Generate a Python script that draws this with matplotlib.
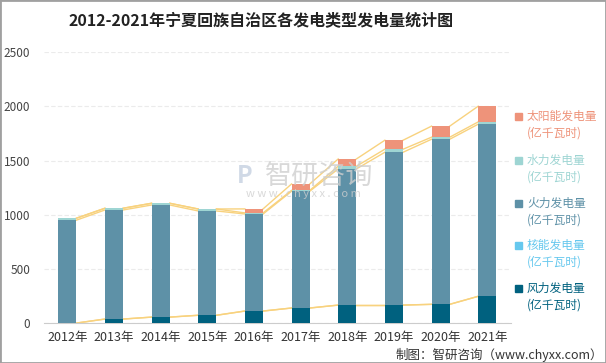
import matplotlib
matplotlib.use("Agg")
import matplotlib.pyplot as plt
from matplotlib.patches import Rectangle
import numpy as np

plt.rcParams['font.family'] = ['Noto Sans CJK SC', 'DejaVu Sans']

# data (亿千瓦时)
years = ['2012年', '2013年', '2014年', '2015年', '2016年', '2017年', '2018年', '2019年', '2020年', '2021年']
wind = [0, 37, 55, 72, 111, 139, 166, 166, 173, 247]
nuclear = [0, 0, 0, 0, 0, 0, 0, 0, 0, 0]
thermal = [950, 1007, 1035, 963, 896, 1078, 1257, 1411, 1524, 1589]
hydro = [18, 16, 16, 18, 10, 8, 25, 28, 19, 21]
solar = [0, 0, 0, 0, 37, 59, 67, 83, 102, 145]

series = [
    ('风力发电量', wind, '#00617F'),
    ('核能发电量', nuclear, '#66C8EE'),
    ('火力发电量', thermal, '#5E91A7'),
    ('水力发电量', hydro, '#9ED5D3'),
    ('太阳能发电量', solar, '#EE937A'),
]

fig = plt.figure(figsize=(6.06, 3.63), dpi=100)
ax = fig.add_axes([0.0726, 0.110, 0.770, 0.746])

x = np.arange(len(years))
w = 0.39
bottom = np.zeros(len(years))
levels = []
for name, vals, color in series:
    vals = np.array(vals, dtype=float)
    ax.bar(x, vals, w, bottom=bottom, color=color, zorder=3)
    bottom = bottom + vals
    levels.append(bottom.copy())

# connecting lines between neighbouring bars
for lv in levels:
    for i in range(len(years) - 1):
        ax.plot([x[i] + w / 2, x[i + 1] - w / 2], [lv[i], lv[i + 1]],
                color='#F8D27E', lw=1, zorder=2)

ax.set_xlim(-0.5, len(years) - 0.5)
ax.set_ylim(0, 2500)
ax.set_yticks(range(0, 2501, 500))
ax.set_xticks(x)
ax.set_xticklabels(years, fontsize=9, color='#333333')
ax.tick_params(axis='y', labelsize=8.5, labelcolor='#444444', length=0, pad=10)
ax.tick_params(axis='x', length=0, pad=6)
ax.grid(axis='y', color='#EBEBEB', lw=0.8, ls=(0, (4, 2)), zorder=0)
for s in ['top', 'right', 'left']:
    ax.spines[s].set_visible(False)
ax.spines['bottom'].set_color('#CCCCCC')

# title
fig.text(261 / 606, 0.945, '2012-2021年宁夏回族自治区各发电类型发电量统计图',
         ha='center', va='center', fontsize=11.5, fontweight='bold', color='#222222')

# legend (manual, top to bottom)
ys = [116, 160, 203, 245, 288]
for (name, vals, color), yy in zip(series[::-1], ys):
    fig.add_artist(Rectangle((515 / 606, 1 - (yy + 4) / 363), 7 / 606, 7 / 363,
                             transform=fig.transFigure, color=color))
    fig.text(527 / 606, 1 - yy / 363, name, ha='left', va='center',
             fontsize=8.5, color=color)
    fig.text(527 / 606, 1 - (yy + 17) / 363, '(亿千瓦时)', ha='left', va='center',
             fontsize=8.5, color=color)

# watermark
fig.text(319 / 606, 1 - 176 / 363, '智研咨询', ha='center', va='center',
         fontsize=19.5, color='#CFCFCF', alpha=0.8)
fig.text(303 / 606, 1 - 194 / 363, 'w w w . c h y x x . c o m', ha='center', va='center',
         fontsize=8, color='#CFCFCF', alpha=0.8)
fig.text(245 / 606, 1 - 176 / 363, 'P', ha='center', va='center',
         fontsize=17, fontweight='bold', color='#C5D0E0', alpha=0.8)

# footer
fig.text(603 / 606, 1 - 355 / 363, '制图：智研咨询（www.chyxx.com）', ha='right', va='center',
         fontsize=9, color='#333333')

# border
fig.add_artist(Rectangle((0, 0), 1, 1, transform=fig.transFigure, fill=False,
                         edgecolor='#A0A0A0', lw=2))

fig.savefig('out.png', dpi=100)
